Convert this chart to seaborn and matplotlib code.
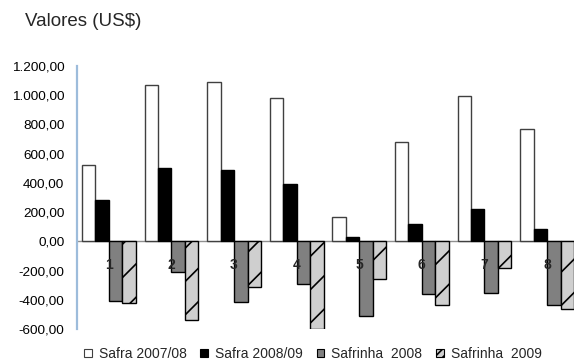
import matplotlib
matplotlib.use("Agg")
import matplotlib.pyplot as plt
from matplotlib.ticker import FuncFormatter, MultipleLocator
import seaborn as sns
import pandas as pd

grupos = ["1", "2", "3", "4", "5", "6", "7", "8"]
series = ["Safra 2007/08", "Safra 2008/09", "Safrinha  2008", "Safrinha  2009"]
safra_0708 = [520, 1070, 1090, 980, 165, 680, 995, 765]
safra_0809 = [280, 500, 485, 390, 30, 120, 220, 85]
safrinha_2008 = [-405, -210, -415, -290, -510, -360, -355, -435]
safrinha_2009 = [-425, -535, -310, -600, -255, -435, -185, -460]

valores = [safra_0708, safra_0809, safrinha_2008, safrinha_2009]
df = pd.DataFrame(
    [(g, s, v) for s, vals in zip(series, valores) for g, v in zip(grupos, vals)],
    columns=["grupo", "serie", "valor"],
)

sns.set_theme(style="white")
plt.rcParams["font.family"] = ["Liberation Sans", "DejaVu Sans"]
plt.rcParams["hatch.linewidth"] = 1.2

fig = plt.figure(figsize=(5.74, 3.64), dpi=100)
ax = fig.add_axes([0.134, 0.096, 0.866, 0.723])

faces = ["white", "black", "#808080", "#cfcfcf"]
edges = ["#404040", "black", "black", "black"]
sns.barplot(data=df, x="grupo", y="valor", hue="serie", order=grupos,
            hue_order=series, palette=faces, width=0.86, gap=0,
            saturation=1, ax=ax, legend=True)

for cont, ec, fc in zip(ax.containers, edges, faces):
    for bar in cont:
        bar.set_edgecolor(ec)
        bar.set_linewidth(1.0)
        bar.set_facecolor(fc)
for bar in ax.containers[3]:
    bar.set_hatch("/")

ax.set_ylim(-600, 1200)
ax.set_xlim(-0.51, 7.43)
ax.yaxis.set_major_locator(MultipleLocator(200))

def br_fmt(v, _):
    s = f"{abs(v):,.2f}".replace(",", "X").replace(".", ",").replace("X", ".")
    return ("-" if v < 0 else "") + s

ax.yaxis.set_major_formatter(FuncFormatter(br_fmt))
ax.tick_params(axis="y", length=0, labelsize=9.7, pad=9, colors="black")

# category axis sits on the zero line, its labels drawn over the bars
ax.set_axisbelow(False)
ax.spines["bottom"].set_position(("data", 0))
ax.spines["bottom"].set_color("#909090")
ax.spines["bottom"].set_linewidth(1.0)
ax.spines["bottom"].set_zorder(0)
ax.spines["left"].set_color("#9dbcdb")
ax.spines["left"].set_linewidth(1.6)
ax.spines["top"].set_visible(False)
ax.spines["right"].set_visible(False)
ax.tick_params(axis="x", length=0, pad=12, labelsize=10)
for lbl in ax.get_xticklabels():
    lbl.set_fontweight("bold")
ax.set_xlabel("")
ax.set_ylabel("")
ax.grid(False)

fig.text(0.044, 0.94, "Valores (US$)", fontsize=13.5, va="center", ha="left")

handles, labels = ax.get_legend_handles_labels()
ax.get_legend().remove()
for h, ec, fc in zip(handles, edges, faces):
    h.set_edgecolor(ec)
    h.set_facecolor(fc)
    h.set_linewidth(0.8)
handles[3].set_hatch("////")
fig.legend(handles, labels, loc="center", bbox_to_anchor=(0.545, 0.027),
           ncol=4, frameon=False, fontsize=10, handlelength=0.55,
           handleheight=0.55, handletextpad=0.5, columnspacing=1.0,
           borderaxespad=0)

fig.savefig("out.png", dpi=100)
